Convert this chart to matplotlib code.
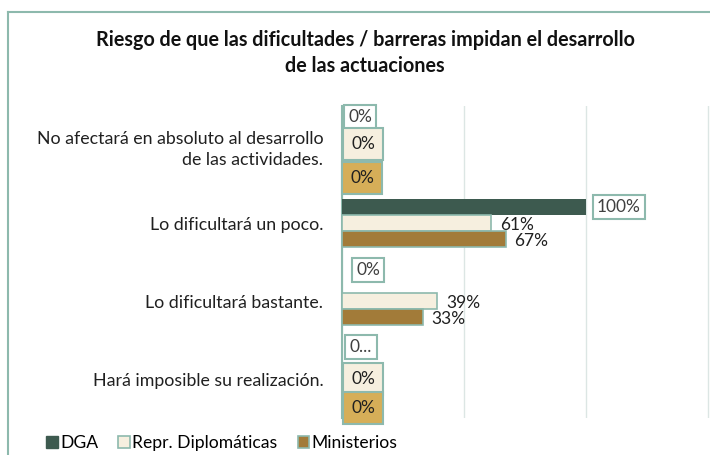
import numpy as np
import matplotlib
matplotlib.use("Agg")
import matplotlib.pyplot as plt
from matplotlib.patches import Patch
from matplotlib.lines import Line2D

plt.rcParams['font.family'] = ['Lato', 'DejaVu Sans']

# data
categories = ["No afectará en absoluto al desarrollo\nde las actividades.",
              "Lo dificultará un poco.",
              "Lo dificultará bastante.",
              "Hará imposible su realización."]
series = ["DGA", "Repr. Diplomáticas", "Ministerios"]
dga = [0, 100, 0, 0]
repr_dipl = [0, 61, 39, 0]
ministerios = [0, 67, 33, 0]

colors = ["#3D5A4F", "#F6EFDF", "#A27B39"]
label_fc = ["white", "#F6EFDF", "#D6AE58"]
edge = "#8DB9AD"

fig = plt.figure(figsize=(7.1, 4.55), dpi=100)
ax = fig.add_axes([0.4817, 0.0813, 0.5183, 0.6857])

y = np.arange(len(categories))
h = 0.205
offsets = [-h, 0, h]
vals = [dga, repr_dipl, ministerios]

for s, (vv, off) in enumerate(zip(vals, offsets)):
    ax.barh(y + off, vv, height=h, color=colors[s],
            edgecolor=edge if s > 0 else "none", linewidth=1.2, zorder=3)

# label placement tweaks (pixels) for the boxed zero labels
zero_shift = {(0, 0): (18, 12), (1, 0): (21, 1), (2, 0): (20, -17),
              (0, 2): (26, 15), (0, 3): (19, 16), (1, 3): (21, 0), (2, 3): (21, -13)}

for s, vv in enumerate(vals):
    for i, v in enumerate(vv):
        yy = y[i] + offsets[s]
        if v == 0:
            dx, dy = zero_shift[(s, i)]
            txt = "0..." if (s, i) == (0, 3) else "0%"
            pad = 0.25 if s == 0 else 0.45
            ax.annotate(txt, xy=(0, yy), xytext=(dx, dy), textcoords="offset pixels",
                        ha="center", va="center", fontsize=12.5, color="#404040" if s == 0 else "#202020",
                        bbox=dict(boxstyle="square,pad=%s" % pad, fc=label_fc[s], ec=edge, lw=1.5),
                        zorder=5)
        elif v == 100:
            ax.annotate("%d%%" % v, xy=(v, yy), xytext=(33, 0), textcoords="offset pixels",
                        ha="center", va="center", fontsize=12.5, color="#404040",
                        bbox=dict(boxstyle="square,pad=0.25", fc="white", ec=edge, lw=1.5), zorder=5)
        else:
            ax.annotate("%d%%" % v, xy=(v, yy), xytext=(9, -2), textcoords="offset pixels",
                        ha="left", va="center", fontsize=12.5, color="#202020", zorder=5)

ax.set_xlim(0, 150.8)
ax.set_ylim(3.5, -0.5)
ax.set_xticks([0, 50, 100, 150])
ax.xaxis.grid(True, color="#DCE6E4", lw=1)
ax.set_axisbelow(True)
ax.tick_params(axis="x", bottom=False, labelbottom=False)
ax.tick_params(axis="y", left=False, pad=10)
ax.set_yticks(y)
ax.set_yticklabels(categories, fontsize=12.8, color="#202020", linespacing=1.45)
for sp in ["top", "right", "bottom"]:
    ax.spines[sp].set_visible(False)
ax.spines["left"].set_color(edge)
ax.spines["left"].set_linewidth(1.5)

fig.text(0.514, 0.8835, "Riesgo de que las dificultades / barreras impidan el desarrollo\nde las actuaciones",
         ha="center", va="center", fontsize=14.2, fontweight="bold", color="#111111", linespacing=1.35)

# outer frame (cut off at right and bottom)
fig.add_artist(Line2D([8 / 710, 8 / 710], [0, 1 - 12 / 455], color=edge, lw=1.5, transform=fig.transFigure))
fig.add_artist(Line2D([8 / 710, 1], [1 - 12 / 455, 1 - 12 / 455], color=edge, lw=1.5, transform=fig.transFigure))

handles = [Patch(fc=colors[0], ec=colors[0]),
           Patch(fc=colors[1], ec=edge, lw=1.2),
           Patch(fc=colors[2], ec=edge, lw=1.2)]
fig.legend(handles, series, loc="center left", bbox_to_anchor=(0.065, 0.026), ncol=3, frameon=False,
           fontsize=12.6, handlelength=0.65, handleheight=0.65, handletextpad=0.15, columnspacing=1.15,
           borderaxespad=0, borderpad=0)

fig.savefig("out.png", dpi=100)
